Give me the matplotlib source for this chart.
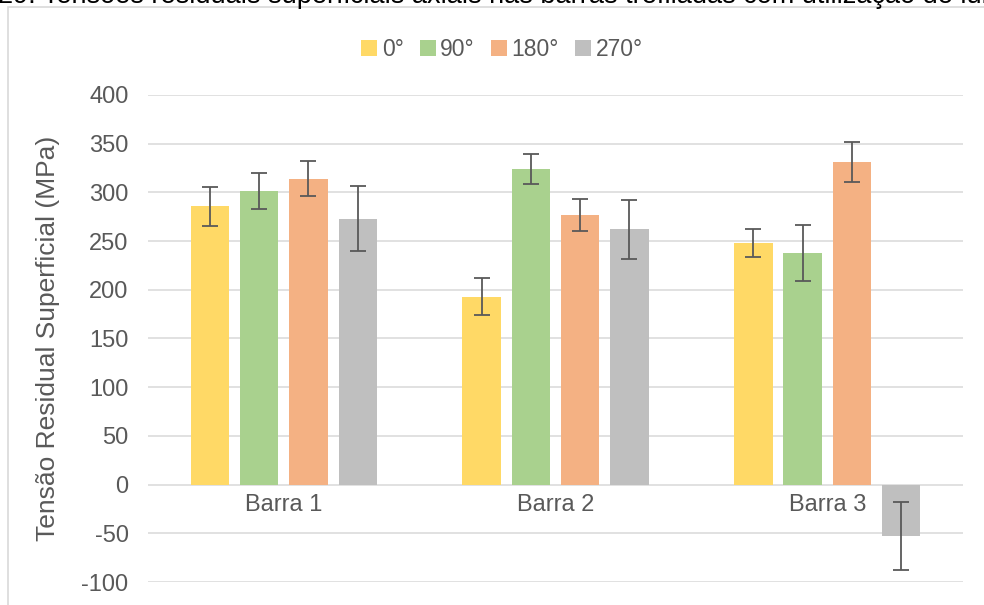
import numpy as np
import matplotlib.pyplot as plt

plt.rcParams['font.family'] = ['Liberation Sans', 'DejaVu Sans']
plt.rcParams['axes.unicode_minus'] = False

# data
categories = ["Barra 1", "Barra 2", "Barra 3"]
angles = ["0°", "90°", "180°", "270°"]
values = {
    "0°": [286, 193, 248],
    "90°": [301, 324, 238],
    "180°": [314, 277, 331],
    "270°": [273, 262, -53],
}
errors = {
    "0°": [20, 19, 14.5],
    "90°": [18.5, 15.5, 28.5],
    "180°": [18, 16.3, 20.5],
    "270°": [33.5, 30.5, 35],
}
colors = ["#FFD966", "#A9D18E", "#F4B183", "#BFBFBF"]
title = "29: Tensões residuais superficiais axiais nas barras trefiladas com utilização de lub"

fig = plt.figure(figsize=(9.84, 6.05), dpi=100)
ax = fig.add_axes([0.1504, 0.038, 0.8283, 0.805])

x = np.arange(len(categories))
step = 0.1815
width = 0.142
for k, ang in enumerate(angles):
    pos = x + (k - 1.5) * step
    ax.bar(pos, values[ang], width, color=colors[k], label=ang, zorder=2)
    ax.errorbar(pos, values[ang], yerr=errors[ang], fmt='none', ecolor='#595959',
                elinewidth=1.3, capsize=6, capthick=1.3, zorder=3)

ax.set_xlim(-0.5, 2.5)
ax.set_ylim(-100, 400)
ax.set_yticks(np.arange(-100, 401, 50))
ax.grid(axis='y', color='#D9D9D9', linewidth=1.1, zorder=0)
ax.set_axisbelow(True)
for s in ax.spines.values():
    s.set_visible(False)
ax.spines['bottom'].set_position(('data', 0))
ax.set_xticks(x)
ax.set_xticklabels(categories)
ax.tick_params(axis='x', length=0, pad=7, labelsize=17, labelcolor='#595959')
ax.tick_params(axis='y', length=0, pad=14, labelsize=17, labelcolor='#595959')
ax.set_ylabel("Tensão Residual Superficial (MPa)", fontsize=19, color='#595959')
ax.yaxis.set_label_coords(-0.108, 0.5)

fig.legend(loc='center', bbox_to_anchor=(0.51, 0.918), ncol=4, frameon=False,
           fontsize=16.5, handlelength=0.7, handleheight=0.7, handletextpad=0.2,
           columnspacing=0.7, labelcolor='#595959')

# outer chart border and clipped caption
fig.add_artist(plt.Rectangle((0.008, -0.1), 1.1, 1.088, transform=fig.transFigure,
                             fill=False, edgecolor='#D9D9D9', linewidth=1.2))
fig.text(-0.002, 0.9955, title, fontsize=19.5, va='baseline', ha='left', color='black')

fig.savefig("out.png", dpi=100)
